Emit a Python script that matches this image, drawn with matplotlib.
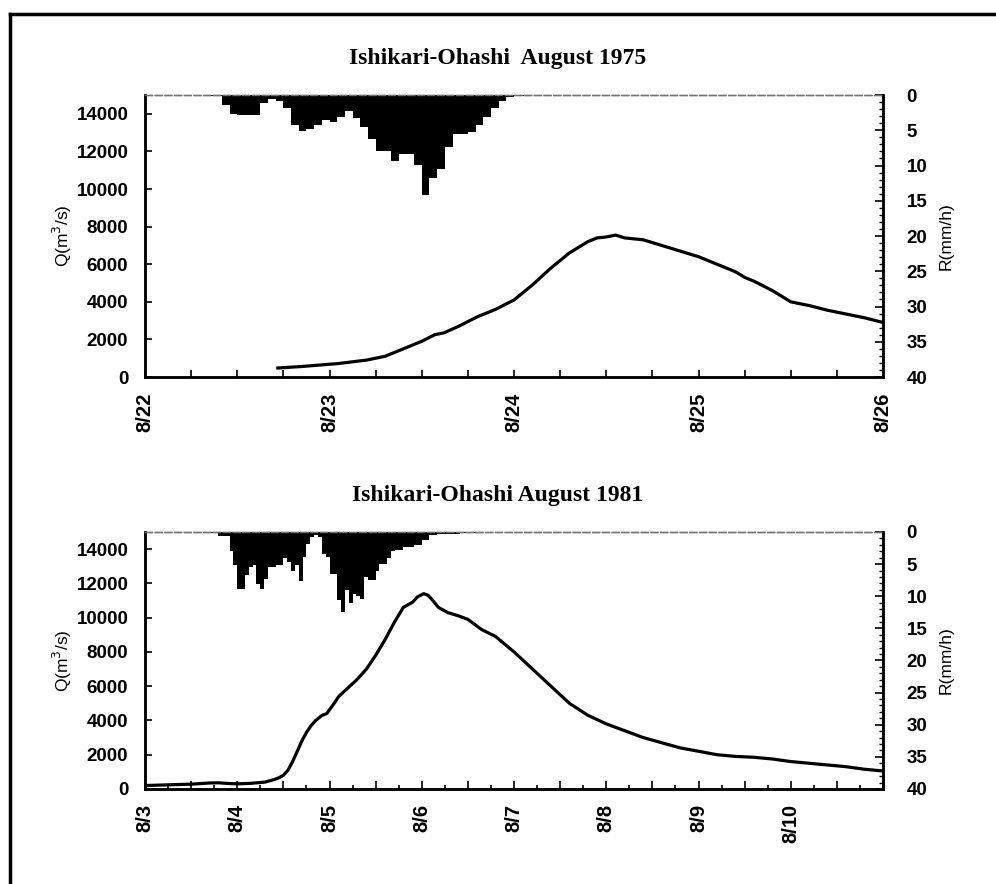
import numpy as np
import matplotlib
matplotlib.use('Agg')
import matplotlib.pyplot as plt
from matplotlib.lines import Line2D
from matplotlib.ticker import MultipleLocator, FuncFormatter

# discharge 1975, time in days from 8/22 00:00
q75_t = [0.72, 0.85, 0.95, 1.05, 1.2, 1.3, 1.4, 1.5, 1.57, 1.62, 1.7, 1.8, 1.9, 2.0,
         2.1, 2.2, 2.3, 2.4, 2.45, 2.5, 2.55, 2.6, 2.7, 2.8, 2.9, 3.0, 3.1, 3.2,
         3.25, 3.3, 3.4, 3.5, 3.6, 3.7, 3.8, 3.9, 4.0]
q75 = [480, 560, 640, 720, 900, 1100, 1500, 1900, 2250, 2350, 2700, 3200, 3600, 4100,
       4900, 5800, 6600, 7200, 7400, 7450, 7550, 7400, 7300, 7000, 6700, 6400, 6000, 5600,
       5300, 5100, 4600, 4000, 3800, 3550, 3350, 3150, 2900]

# hourly rainfall 1975 (mm/h), first value is hour 8 of 8/22
rain75_start = 8
rain75 = [0.1, 0.2, 1.4, 2.7, 2.9, 2.9, 2.9, 1.2, 0.5, 0.9, 1.9, 4.3, 5.1, 4.8, 4.2,
          3.5, 3.8, 3.1, 2.3, 3.2, 4.6, 6.2, 7.9, 7.9, 9.3, 8.3, 8.3, 9.9, 14.2, 11.8,
          10.5, 7.4, 5.5, 5.5, 5.3, 4.3, 3.1, 1.9, 0.8, 0.3, 0.2, 0.1]

# discharge 1981, time in days from 8/3 00:00
q81_t = [0.0, 0.3, 0.5, 0.7, 0.8, 0.9, 1.0, 1.15, 1.3, 1.4, 1.45, 1.5, 1.55, 1.6, 1.65,
         1.7, 1.75, 1.8, 1.85, 1.92, 1.97, 2.05, 2.1, 2.2, 2.3, 2.4, 2.5, 2.6, 2.7, 2.8,
         2.9, 2.95, 3.02, 3.07, 3.12, 3.18, 3.28, 3.4, 3.5, 3.65, 3.8, 4.0, 4.2, 4.4,
         4.6, 4.8, 5.0, 5.2, 5.4, 5.6, 5.8, 6.0, 6.2, 6.4, 6.6, 6.8, 7.0, 7.3, 7.6,
         7.8, 8.0]
q81 = [200, 250, 280, 350, 360, 320, 300, 330, 400, 550, 650, 800, 1100, 1600, 2200,
       2800, 3300, 3700, 4000, 4300, 4400, 5000, 5400, 5900, 6400, 7000, 7800, 8700, 9700, 10600,
       10900, 11200, 11400, 11300, 11000, 10600, 10300, 10100, 9900, 9300, 8900, 8000, 7000, 6000,
       5000, 4300, 3800, 3400, 3000, 2700, 2400, 2200, 2000, 1900, 1850, 1750, 1600, 1450, 1300,
       1150, 1050]

# hourly rainfall 1981 (mm/h), first value is hour 15 of 8/3
rain81_start = 15
rain81 = [0.2, 0.2, 0.2, 0.2, 0.6, 0.6, 0.6, 2.9, 5.2, 8.8, 8.8, 6.7, 5.4, 5.2, 8.1,
          8.8, 7.3, 5.4, 5.4, 5.2, 5.2, 4.0, 4.7, 6.0, 5.2, 7.6, 3.9, 1.8, 0.8, 0.5,
          0.8, 3.4, 3.9, 6.5, 6.5, 10.6, 12.5, 9.1, 11.1, 9.6, 9.9, 10.4, 7.0, 7.5, 7.5,
          6.0, 5.0, 5.0, 4.0, 2.9, 2.8, 2.8, 2.3, 2.3, 2.3, 2.1, 2.1, 1.3, 1.3, 0.5,
          0.5, 0.3, 0.3, 0.3, 0.3, 0.3, 0.3, 0.1, 0.1, 0.1, 0.1]

days75 = ['8/22', '8/23', '8/24', '8/25', '8/26']
days81 = ['8/3', '8/4', '8/5', '8/6', '8/7', '8/8', '8/9', '8/10']

plt.rcParams['font.family'] = ['Liberation Sans', 'DejaVu Sans']

fig = plt.figure(figsize=(9.96, 8.84), dpi=100)


def panel(rect, title, title_y, qt, q, rain_start, rain, labels, ndays, minor_ticks):
    ax = fig.add_axes(rect)
    ax.plot(qt, q, color='black', lw=2.3, zorder=3)
    ax.set_xlim(0, ndays)
    ax.set_ylim(0, 15000)
    ax.set_yticks(range(0, 15000, 2000))
    ax.set_ylabel('Q(m$^3$/s)', fontsize=12.5, labelpad=2)
    ax.tick_params(axis='y', direction='in', length=5, width=1.2, labelsize=13.5, pad=12)

    # x ticks every 6 h, labels only at midnight
    if minor_ticks:
        ax.xaxis.set_major_locator(MultipleLocator(0.5))
        ax.xaxis.set_minor_locator(MultipleLocator(0.25))
        ax.tick_params(axis='x', which='major', direction='in', length=6, width=1.2)
        ax.tick_params(axis='x', which='minor', direction='in', length=3, width=1.2)
    else:
        ax.xaxis.set_major_locator(MultipleLocator(0.25))
        ax.tick_params(axis='x', direction='in', length=5, width=1.2)

    def fmt(v, pos):
        i = int(round(v))
        if abs(v - i) < 1e-6 and i < len(labels):
            return labels[i]
        return ''
    ax.xaxis.set_major_formatter(FuncFormatter(fmt))
    ax.tick_params(axis='x', labelsize=14.5, labelrotation=90, pad=11)

    # rainfall on reversed right axis
    ax2 = ax.twinx()
    ht = (np.arange(len(rain)) + rain_start) / 24.0
    ax2.bar(ht, rain, width=1 / 24.0, align='edge', color='black', lw=0)
    ax2.set_ylim(40, 0)
    ax2.set_xlim(0, ndays)
    ax2.yaxis.set_major_locator(MultipleLocator(5))
    ax2.yaxis.set_minor_locator(MultipleLocator(1))
    ax2.tick_params(axis='y', which='major', direction='in', length=6, width=1.2, labelsize=13.5, pad=17)
    ax2.tick_params(axis='y', which='minor', direction='in', length=3, width=1)
    ax2.set_ylabel('R(mm/h)', fontsize=12.5, labelpad=8)

    for lab in ax.get_yticklabels() + ax.get_xticklabels() + ax2.get_yticklabels():
        lab.set_fontweight('bold')

    for a in (ax, ax2):
        for s in ('left', 'right', 'bottom'):
            a.spines[s].set_linewidth(1.8)
        a.spines['top'].set_linewidth(1.0)
        a.spines['top'].set_color('0.45')
        a.spines['top'].set_linestyle((0, (5, 2)))

    fig.text(0.5, title_y, title, ha='center', va='center', fontsize=17,
             fontweight='bold', family='Liberation Serif')
    return ax


panel([0.1456, 0.5735, 0.741, 0.319], 'Ishikari-Ohashi  August 1975', 0.934,
      q75_t, q75, rain75_start, rain75, days75, 4, False)
panel([0.1456, 0.1075, 0.741, 0.2907], 'Ishikari-Ohashi August 1981', 0.439,
      q81_t, q81, rain81_start, rain81, days81, 8, True)

# outer frame of the figure (left and top edges)
fig.add_artist(Line2D([0.0105, 0.0105], [0.0, 0.9845], color='black', lw=2.5, transform=fig.transFigure))
fig.add_artist(Line2D([0.0105, 1.0], [0.9845, 0.9845], color='black', lw=2.5, transform=fig.transFigure))

fig.savefig('out.png', dpi=100)
